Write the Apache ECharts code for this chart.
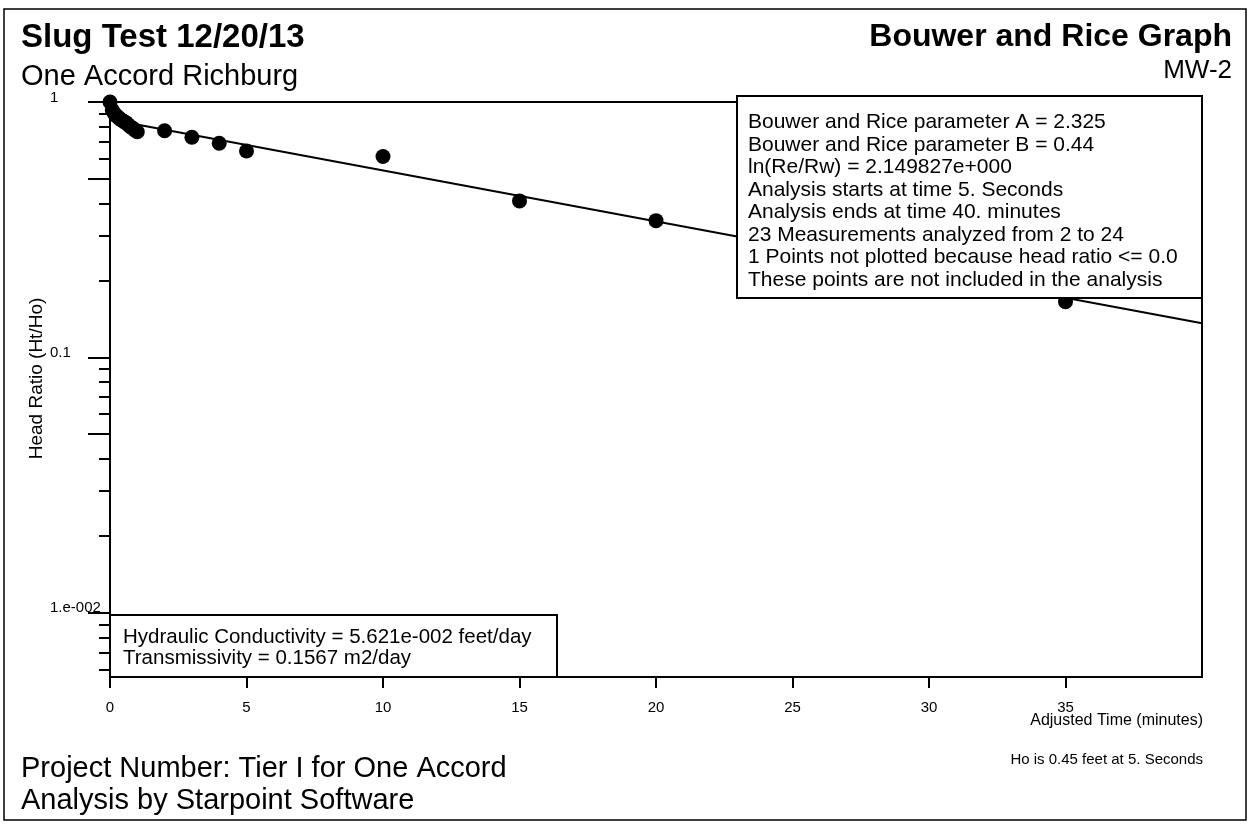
<!DOCTYPE html>
<html>
<head>
<meta charset="utf-8">
<title>Bouwer and Rice Graph - MW-2</title>
<script src="https://cdn.jsdelivr.net/npm/echarts@6/dist/echarts.min.js"></script>
<style>
  html, body { margin: 0; padding: 0; background: #fff; }
  #chart { width: 1249px; height: 824px; }
</style>
</head>
<body>
<div id="chart"></div>
<script>
// Slug test measurements: adjusted time (minutes) and head ratio Ht/Ho
const timeMin = [0, 0.083, 0.167, 0.25, 0.333, 0.417, 0.5, 0.583, 0.667, 0.75, 0.833, 0.917, 1.0,
                 2, 3, 4, 5, 10, 15, 20, 25, 30, 35];
const headRatio = [1.0, 0.93, 0.90, 0.88, 0.865, 0.85, 0.84, 0.83, 0.815, 0.80, 0.79, 0.775, 0.765,
                   0.772, 0.728, 0.689, 0.643, 0.612, 0.41, 0.343, 0.27, 0.21, 0.165];

// Fitted Bouwer and Rice straight line (semi-log)
const fitTime = [0, 40];
const fitRatio = [0.854, 0.136];

// Axis ticks
const xTicks = [0, 5, 10, 15, 20, 25, 30, 35];
const yMajorTicks = [1, 0.5, 0.1, 0.05, 0.01];
const yMinorTicks = [0.9, 0.8, 0.7, 0.6, 0.4, 0.3, 0.2,
                     0.09, 0.08, 0.07, 0.06, 0.04, 0.03, 0.02,
                     0.009, 0.008, 0.007, 0.006];
const yLabelValues = [1, 0.1, 0.01];
const yLabelTexts = ['1', '0.1', '1.e-002'];

// Annotation text
const analysisLines = [
  'Bouwer and Rice parameter A = 2.325',
  'Bouwer and Rice parameter B = 0.44',
  'ln(Re/Rw) = 2.149827e+000',
  'Analysis starts at time 5. Seconds',
  'Analysis ends at time 40. minutes',
  '23 Measurements analyzed from 2 to 24',
  '1 Points not plotted because head ratio <= 0.0',
  'These points are not included in the analysis'
];
const resultLines = [
  'Hydraulic Conductivity = 5.621e-002 feet/day',
  'Transmissivity = 0.1567 m2/day'
];

const FONT = '"Liberation Sans", Arial, Helvetica, sans-serif';
const INK = '#000';

function yLabelFor(v) {
  let best = 0;
  for (let i = 1; i < yLabelValues.length; i++) {
    if (Math.abs(Math.log10(v) - Math.log10(yLabelValues[i])) <
        Math.abs(Math.log10(v) - Math.log10(yLabelValues[best]))) best = i;
  }
  return yLabelTexts[best];
}

const chart = echarts.init(document.getElementById('chart'), null, { renderer: 'canvas' });

const titleStyle = (size, bold) => ({
  fontFamily: FONT, fontSize: size, fontWeight: bold ? 'bold' : 'normal', color: INK
});

const option = {
  backgroundColor: '#fff',
  animation: false,
  textStyle: { fontFamily: FONT, color: INK },
  title: [
    { text: 'Slug Test 12/20/13', left: 21, top: 21, padding: 0, textStyle: titleStyle(33, true) },
    { text: 'One Accord Richburg', left: 21, top: 62, padding: 0, textStyle: titleStyle(29, false) },
    { text: 'Bouwer and Rice Graph', right: 17, top: 21, padding: 0, textStyle: titleStyle(32, true) },
    { text: 'MW-2', right: 17, top: 58, padding: 0, textStyle: titleStyle(26, false) },
    { text: 'Project Number: Tier I for One Accord', left: 21, top: 754, padding: 0, textStyle: titleStyle(29, false) },
    { text: 'Analysis by Starpoint Software', left: 21, top: 786, padding: 0, textStyle: titleStyle(29, false) },
    { text: 'Adjusted Time (minutes)', right: 46, top: 713, padding: 0, textStyle: titleStyle(16, false) },
    { text: 'Ho is 0.45 feet at 5. Seconds', right: 46, top: 752, padding: 0, textStyle: titleStyle(15, false) }
  ],
  grid: {
    left: 110, top: 102, right: 47, bottom: 147,
    show: true, borderColor: INK, borderWidth: 2, backgroundColor: 'transparent'
  },
  xAxis: {
    type: 'value', min: 0, max: 40,
    position: 'bottom',
    axisLine: { show: true, onZero: false, lineStyle: { color: INK, width: 2 } },
    axisTick: { show: true, customValues: xTicks, length: 11, inside: false, lineStyle: { color: INK, width: 2 } },
    axisLabel: { customValues: xTicks, margin: 23, fontSize: 15, color: INK, fontFamily: FONT },
    splitLine: { show: false }
  },
  yAxis: [
    {
      type: 'log', logBase: 10, min: 0.0056, max: 1,
      position: 'left',
      axisLine: { show: true, onZero: false, lineStyle: { color: INK, width: 2 } },
      axisTick: { show: true, customValues: yMajorTicks, length: 22, lineStyle: { color: INK, width: 2 } },
      axisLabel: {
        customValues: yLabelValues, formatter: yLabelFor,
        align: 'left', verticalAlign: 'bottom', lineHeight: 9,
        margin: 60, fontSize: 15, color: INK, fontFamily: FONT
      },
      splitLine: { show: false },
      minorTick: { show: false },
      name: 'Head Ratio (Ht/Ho)',
      nameLocation: 'middle', nameGap: 64, nameRotate: 90,
      nameMoveOverlap: false,
      nameTextStyle: { fontSize: 19, color: INK, fontFamily: FONT, padding: [0, 0, 0, 22] }
    },
    {
      type: 'log', logBase: 10, min: 0.0056, max: 1,
      position: 'left',
      axisLine: { show: false },
      axisTick: { show: true, customValues: yMinorTicks, length: 11, lineStyle: { color: INK, width: 2 } },
      axisLabel: { show: false },
      splitLine: { show: false }
    }
  ],
  series: [
    {
      name: 'Fit',
      type: 'line',
      yAxisIndex: 0,
      data: fitTime.map((t, i) => [t, fitRatio[i]]),
      showSymbol: false,
      symbol: 'none',
      lineStyle: { color: INK, width: 2 },
      z: 3
    },
    {
      name: 'Head ratio',
      type: 'scatter',
      yAxisIndex: 0,
      data: timeMin.map((t, i) => [t, headRatio[i]]),
      symbol: 'circle',
      symbolSize: 15,
      itemStyle: { color: INK, opacity: 1 },
      clip: false,
      z: 4
    }
  ],
  graphic: {
    elements: [
      {
        type: 'group', x: 737, y: 96, zlevel: 1, z: 100,
        children: [
          { type: 'rect', zlevel: 1, z: 100, shape: { x: 0, y: 0, width: 465, height: 202 },
            style: { fill: '#fff', stroke: INK, lineWidth: 2 } },
          { type: 'text', zlevel: 1, z: 101, x: 11, y: 15,
            style: { text: analysisLines.join('\n'), fontFamily: FONT, fontSize: 21, lineHeight: 22.5,
                     fill: INK, verticalAlign: 'top', align: 'left' } }
        ]
      },
      {
        type: 'group', x: 110, y: 615, zlevel: 1, z: 100,
        children: [
          { type: 'rect', zlevel: 1, z: 100, shape: { x: 0, y: 0, width: 447, height: 62 },
            style: { fill: '#fff', stroke: INK, lineWidth: 2 } },
          { type: 'text', zlevel: 1, z: 101, x: 13, y: 12,
            style: { text: resultLines.join('\n'), fontFamily: FONT, fontSize: 20.5, lineHeight: 21,
                     fill: INK, verticalAlign: 'top', align: 'left' } }
        ]
      },
      {
        type: 'rect', zlevel: 1, z: 100,
        shape: { x: 4, y: 9, width: 1242, height: 811 },
        style: { fill: 'none', stroke: INK, lineWidth: 1.5 }
      }
    ]
  }
};

chart.setOption(option);
</script>
</body>
</html>
